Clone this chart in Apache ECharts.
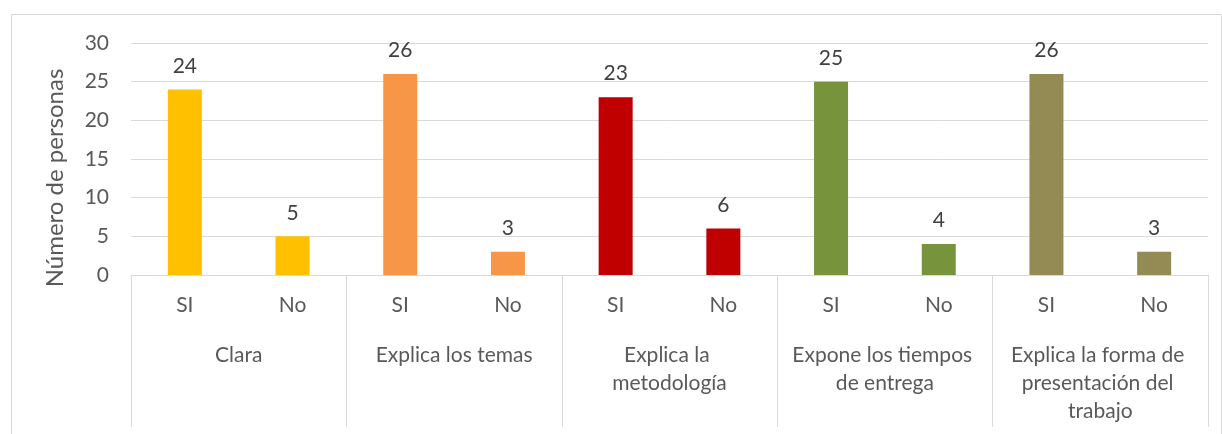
<!DOCTYPE html>
<html>
<head>
<meta charset="utf-8">
<script src="https://cdn.jsdelivr.net/npm/echarts@6/dist/echarts.min.js"></script>
<style>
  html, body { margin: 0; padding: 0; background: #fff; }
  #chart { width: 1222px; height: 434px; }
</style>
</head>
<body>
<div id="chart"></div>
<script>
  // datos
  var grupos = ['Clara', 'Explica los temas', 'Explica la metodología', 'Expone los tiempos de entrega', 'Explica la forma de presentación del trabajo'];
  var respuestas = ['SI', 'No', 'SI', 'No', 'SI', 'No', 'SI', 'No', 'SI', 'No'];
  var personas = [24, 5, 26, 3, 23, 6, 25, 4, 26, 3];
  var yTicks = [0, 30, 5];

  var colores = ['#FFC000', '#F79646', '#C00000', '#77933C', '#948A54'];
  var fuente = 'Lato';

  var chart = echarts.init(document.getElementById('chart'));
  chart.setOption({
    animation: false,
    textStyle: { fontFamily: fuente },
    grid: { left: 131, right: 14, top: 43, bottom: 159 },
    graphic: [{
      type: 'rect',
      shape: { x: 11.5, y: 14.5, width: 1210, height: 440 },
      style: { fill: 'none', stroke: '#d9d9d9', lineWidth: 1 },
      silent: true
    }],
    xAxis: [{
      type: 'category',
      data: respuestas,
      axisLine: { lineStyle: { color: '#d9d9d9', width: 1 } },
      axisTick: { show: false },
      axisLabel: { color: '#595959', fontSize: 21, margin: 20, interval: 0, fontFamily: fuente }
    }, {
      type: 'category',
      data: grupos,
      position: 'bottom',
      axisLine: { show: false },
      axisTick: { show: true, interval: 0, length: 152, lineStyle: { color: '#d9d9d9', width: 1 } },
      axisLabel: {
        color: '#595959', fontSize: 21, margin: 66, lineHeight: 28, interval: 0,
        width: 200, overflow: 'break', align: 'center', fontFamily: fuente
      }
    }],
    yAxis: {
      type: 'value',
      min: yTicks[0],
      max: yTicks[1],
      interval: yTicks[2],
      name: 'Número de personas',
      nameLocation: 'middle',
      nameGap: 64,
      nameRotate: 90,
      nameTextStyle: { color: '#595959', fontSize: 24, padding: [0, 38, 0, 0], fontFamily: fuente },
      axisLine: { show: false },
      axisTick: { show: false },
      axisLabel: { color: '#595959', fontSize: 21, margin: 22, fontFamily: fuente },
      splitLine: { lineStyle: { color: '#d9d9d9', width: 1 } }
    },
    series: [{
      type: 'bar',
      xAxisIndex: 0,
      barWidth: 34,
      data: personas.map(function (v, i) {
        return { value: v, itemStyle: { color: colores[Math.floor(i / 2)] } };
      }),
      label: {
        show: true,
        position: 'top',
        distance: 13,
        color: '#404040',
        fontSize: 21,
        fontFamily: fuente
      }
    }]
  });
</script>
</body>
</html>
